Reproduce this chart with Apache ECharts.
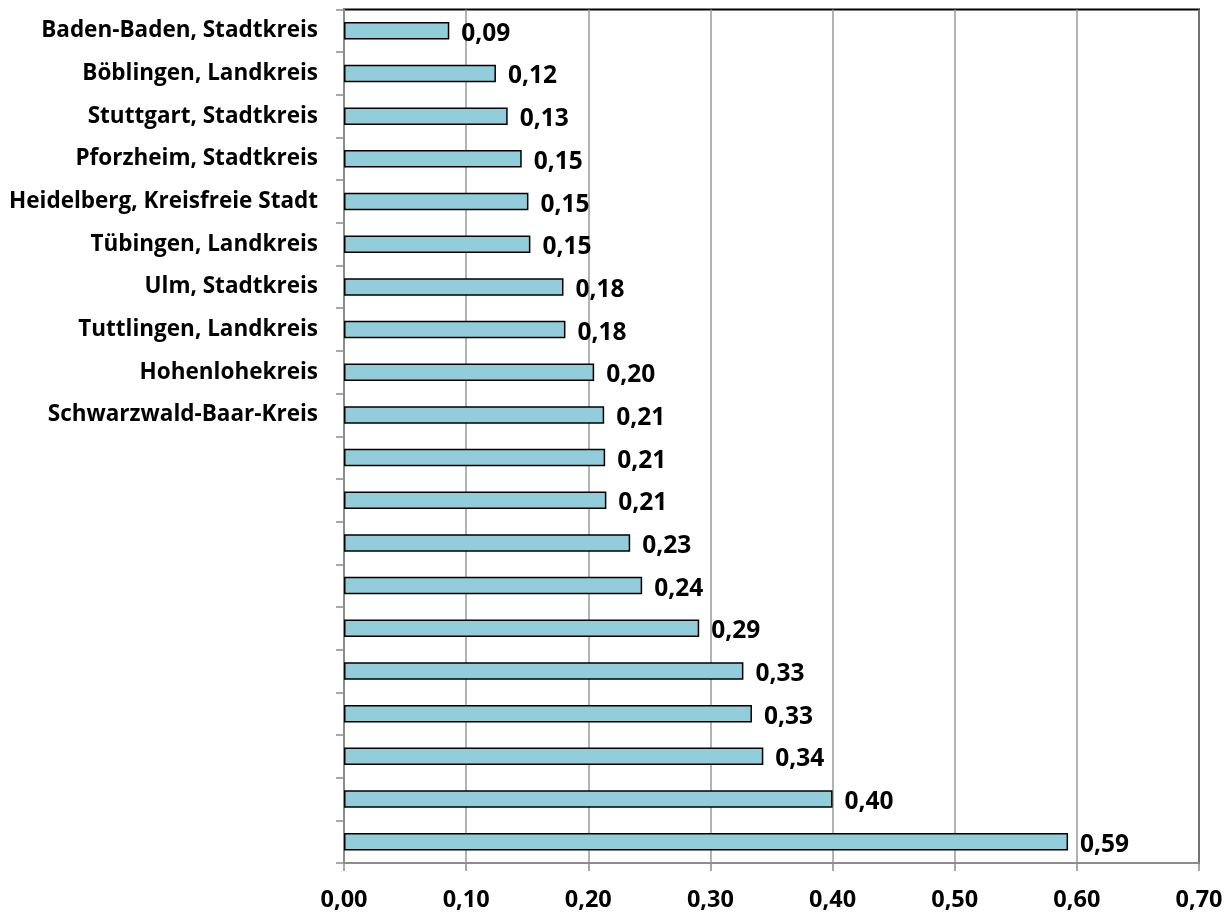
<!DOCTYPE html>
<html>
<head>
<meta charset="utf-8">
<script src="https://cdn.jsdelivr.net/npm/echarts@6/dist/echarts.min.js"></script>
<style>
html,body{margin:0;padding:0;background:#fff;}
#chart{width:1227px;height:912px;}
</style>
</head>
<body>
<div id="chart"></div>
<script>
const categories = [
  'Baden-Baden, Stadtkreis',
  'Böblingen, Landkreis',
  'Stuttgart, Stadtkreis',
  'Pforzheim, Stadtkreis',
  'Heidelberg, Kreisfreie Stadt',
  'Tübingen, Landkreis',
  'Ulm, Stadtkreis',
  'Tuttlingen, Landkreis',
  'Hohenlohekreis',
  'Schwarzwald-Baar-Kreis',
  '', '', '', '', '', '', '', '', '', ''
];
const values = [
  0.0862, 0.1244, 0.134, 0.1455, 0.151, 0.1526, 0.1797, 0.1813, 0.2048, 0.213,
  0.2138, 0.2148, 0.2343, 0.2441, 0.2908, 0.327, 0.334, 0.3433, 0.400, 0.5928
];
const xTicks = [0, 0.1, 0.2, 0.3, 0.4, 0.5, 0.6, 0.7];

const fmt = v => v.toFixed(2).replace('.', ',');
const FONT = '"Open Sans"';

const chart = echarts.init(document.getElementById('chart'), null, {renderer: 'canvas'});
chart.setOption({
  backgroundColor: '#ffffff',
  animation: false,
  grid: {
    left: 344, right: 28, top: 9.5, bottom: 48,
    show: true, borderColor: '#000000', borderWidth: 2, backgroundColor: 'transparent'
  },
  xAxis: {
    type: 'value',
    min: xTicks[0],
    max: xTicks[xTicks.length - 1],
    interval: 0.1,
    axisLine: {show: true, lineStyle: {color: '#8c8c8c', width: 2}},
    axisTick: {show: true, length: 8, lineStyle: {color: '#8c8c8c', width: 1.5}},
    splitLine: {show: true, lineStyle: {color: '#9a9a9a', width: 1.5}},
    axisLabel: {
      margin: 25,
      formatter: v => fmt(v),
      fontFamily: FONT, fontWeight: 'bold', fontSize: 23.5, color: '#000'
    }
  },
  yAxis: {
    type: 'category',
    inverse: true,
    data: categories,
    axisLine: {show: true, lineStyle: {color: '#8c8c8c', width: 2}},
    axisTick: {show: true, length: 8, lineStyle: {color: '#8c8c8c', width: 1.5}},
    axisLabel: {
      margin: 26,
      fontFamily: FONT, fontWeight: 'bold', fontSize: 22.5, color: '#000'
    }
  },
  series: [{
    type: 'bar',
    data: values,
    barWidth: '41%',
    itemStyle: {color: '#92CDDC', borderColor: '#000000', borderWidth: 1.5},
    label: {
      show: true,
      position: 'right',
      distance: 12,
      offset: [0, 3],
      formatter: p => fmt(p.value),
      fontFamily: FONT, fontWeight: 'bold', fontSize: 24.5, color: '#000'
    }
  }]
});
</script>
</body>
</html>
